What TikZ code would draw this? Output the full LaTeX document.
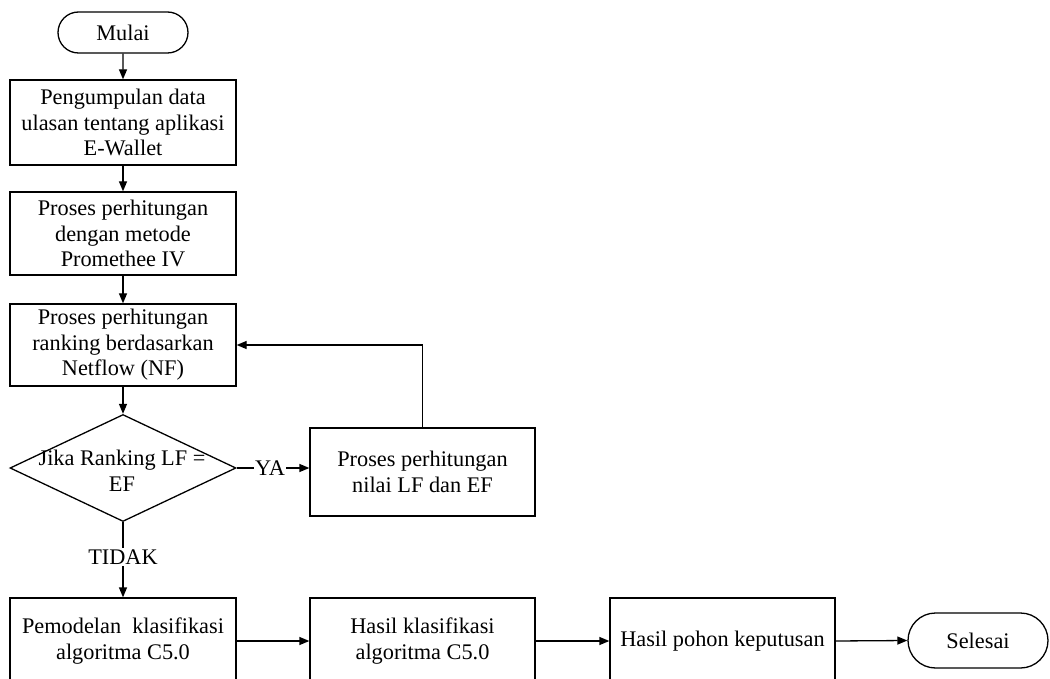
\documentclass[tikz,border=0pt]{standalone}
\usepackage{fontspec}
\setmainfont{Liberation Serif}
\usetikzlibrary{arrows.meta,shapes.geometric,shapes.misc,calc}

\tikzset{
  every node/.style={font=\fontsize{22.3pt}{25.5pt}\selectfont},
  proc/.style={draw, line width=1.3pt, rectangle, align=center, inner sep=0pt,
               minimum width=226pt, minimum height=84pt},
  term/.style={draw, line width=1.3pt, rounded rectangle, align=center, inner sep=0pt},
  decide/.style={draw, line width=1.3pt, diamond, inner sep=0pt, aspect=2.1,
                 minimum width=226pt, minimum height=107pt},
  flow/.style={line width=1.3pt, -{Triangle[length=10pt,width=8pt]}},
  lbl/.style={fill=white, inner sep=1.5pt}
}

\begin{document}
\begin{tikzpicture}[x=1pt,y=-1pt]
  \useasboundingbox (0,0) rectangle (1050,679);
  \begin{scope}
    \clip (0,0) rectangle (1050,679);

    % start
    \node[term, minimum width=130pt, minimum height=41pt] (mulai) at (123,32.5) {Mulai};

    % left column
    \node[proc, minimum height=85pt] (kumpul) at (123,122.5)
      {Pengumpulan data\\ulasan tentang aplikasi\\E-Wallet};
    \node[proc, minimum height=83pt] (promethee) at (123,233.5)
      {Proses perhitungan\\dengan metode\\Promethee IV};
    \node[proc, minimum height=82pt] (ranking) at (123,345)
      {Proses perhitungan\\ranking berdasarkan\\Netflow (NF)};

    % decision
    \node[decide] (cek) at (123,468) {};
    \node[align=center, inner sep=0pt] (cektext) at (122,471) {Jika Ranking LF =\\EF};

    \node[proc, minimum width=225pt, minimum height=88pt] (nilai) at (422.5,472)
      {Proses perhitungan\\nilai LF dan EF};

    % bottom row
    \node[proc, minimum height=86pt] (model) at (123,641)
      {Pemodelan\ \ klasifikasi\\algoritma C5.0};
    \node[proc, minimum width=225pt, minimum height=86pt] (hasil) at (422.5,641)
      {Hasil klasifikasi\\algoritma C5.0};
    \node[proc, minimum width=225pt, minimum height=86pt] (pohon) at (722.5,641)
      {Hasil pohon keputusan};
    \node[term, minimum width=140pt, minimum height=55pt] (selesai) at (978,640.5) {Selesai};

    % connectors
    \draw[flow] (mulai) -- (kumpul);
    \draw[flow] (kumpul) -- (promethee);
    \draw[flow] (promethee) -- (ranking);
    \draw[flow] (ranking) -- (cek);
    \draw[flow] (cek.east) -- node[lbl, xshift=-3pt] {YA} (nilai.west |- cek.east);
    \draw[flow] (nilai.north) |- (ranking.east);
    \draw[flow] (cek.south) -- node[lbl, pos=0.46] {TIDAK} (model.north);
    \draw[flow] (model.east) -- (hasil.west);
    \draw[flow] (hasil.east) -- (pohon.west);
    \draw[flow] (pohon.east) -- (selesai.west);
  \end{scope}
\end{tikzpicture}
\end{document}
